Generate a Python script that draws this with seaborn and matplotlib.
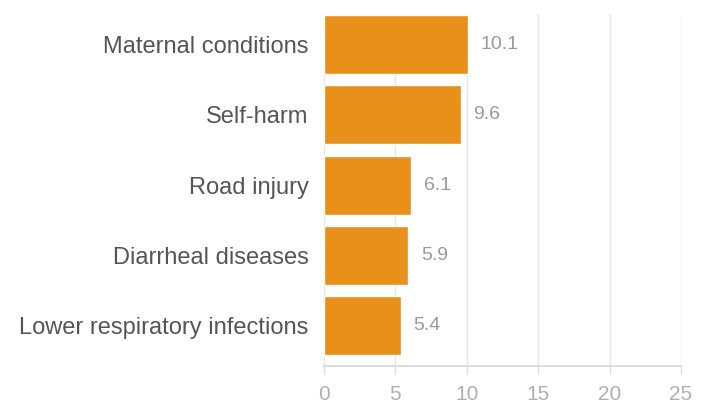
import matplotlib
matplotlib.use("Agg")
import matplotlib.pyplot as plt
import seaborn as sns
import pandas as pd

categories = ["Maternal conditions", "Self-harm", "Road injury",
              "Diarrheal diseases", "Lower respiratory infections"]
values = [10.1, 9.6, 6.1, 5.9, 5.4]
xticks = [0, 5, 10, 15, 20, 25]

sns.set_theme(style="white")
plt.rcParams["font.family"] = ["Liberation Sans", "DejaVu Sans"]

df = pd.DataFrame({"cause": categories, "value": values})

fig = plt.figure(figsize=(7.08, 4.05), dpi=100)
ax = fig.add_axes([324 / 708, 1 - 366 / 405, (681 - 324) / 708, (366 - 14) / 405])

sns.barplot(data=df, x="value", y="cause", color="#E8901A", saturation=1,
            width=0.84, ax=ax, zorder=3)

ax.set_xlim(0, 25)
ax.set_ylim(4.57, -0.43)
ax.set_xticks(xticks)
ax.set_xticklabels([str(t) for t in xticks])
ax.set_xlabel("")
ax.set_ylabel("")

for s in ["top", "right", "left"]:
    ax.spines[s].set_visible(False)
ax.spines["bottom"].set_color("#dddddd")
ax.spines["bottom"].set_linewidth(1.5)

ax.grid(axis="x", color="#e6e6e6", linewidth=1, zorder=0)
ax.set_axisbelow(True)

ax.tick_params(axis="x", bottom=True, length=6, width=1, color="#dddddd",
               labelsize=15, labelcolor="#b0b0b0", pad=8)
ax.tick_params(axis="y", left=False, labelsize=17, labelcolor="#555555", pad=5)

for i, v in enumerate(values):
    ax.annotate(f"{v:.1f}", xy=(v, i), xytext=(9, 0), textcoords="offset points",
                ha="left", va="center", fontsize=14, color="#9a9a9a")

fig.savefig("out.png", dpi=100)
